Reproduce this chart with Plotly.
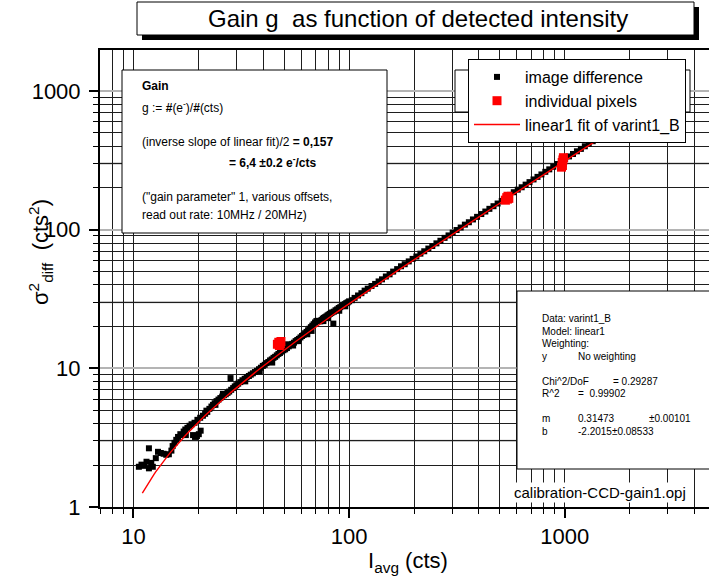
import numpy as np
import plotly.graph_objects as go

# ---------------- data ----------------
diff_x = [10.6, 10.9, 11.2, 11.5, 11.8, 12.1, 12.3, 11.8, 12.7,
          13.0, 13.4, 13.8, 14.2, 14.6, 15.0, 15.2,
          15.5, 15.8, 16.1, 16.5, 16.8, 17.1, 17.4, 17.8, 18.2, 18.6,
          18.9, 19.3, 19.7, 20.1, 20.5, 19.2, 19.8, 20.4, 21.0, 21.5,
          22.0, 22.5, 23.0, 23.4, 23.8, 24.3, 24.8, 25.3, 25.8, 26.3,
          26.8, 27.3, 27.8, 28.2, 28.4, 29.0, 29.5, 30.0,
          30.6, 31.3, 32.0, 32.8, 33.5, 34.3, 35.0, 35.8, 36.6, 37.4,
          38.2, 39.0, 39.8, 40.6, 41.4, 42.2, 43.0, 43.8, 44.6, 45.4,
          46.2, 47.0, 47.8,
          48.7, 49.6, 50.5, 51.5, 52.5, 53.5, 54.5, 55.5, 56.5, 57.5,
          58.5, 59.5, 60.5, 61.5, 62.5, 63.5, 64.5, 65.5, 66.5, 67.5,
          68.5, 69.5, 70.5, 71.5, 72.5, 73.5, 74.5, 75.5, 76.5, 77.5,
          78.5, 79.5, 80.5, 81.5, 82.5, 84.5, 83.5, 85.0, 86.5, 88.0,
          89.5, 91.0, 92.5, 94.0, 95.5, 97.0, 98.5, 100.0,
          52.0, 58.0, 64.0, 76.0, 90.0, 96.0,
          17.5, 21.8, 24.0, 26.0, 33.0, 38.5, 44.0, 55.0, 67.0, 80.0,
          103, 106, 110, 114, 118, 122, 127, 132, 137, 142, 148, 154,
          160, 167, 174, 181, 189, 197, 205, 214, 223, 233, 243, 254,
          265, 277, 289, 302, 315, 329, 344, 359, 375, 392, 410, 428,
          447, 467, 488, 510, 533,
          556, 580, 605, 631, 658, 686, 716, 747, 779, 812, 847, 884,
          922, 962, 1003, 1046, 1091, 1138, 1187, 1238, 1291, 1347,
          1405, 1465, 1528, 1594, 1662, 1734, 1808, 1886, 1967, 2050]
diff_y = [1.95, 2.02, 1.98, 2.12, 1.90, 2.08, 1.95, 2.65, 2.25,
          2.50, 2.45, 2.42, 2.38, 2.40, 2.55, 2.75,
          2.90, 3.05, 3.20, 3.35, 3.30, 3.50, 3.62, 3.72, 3.85, 3.95,
          3.30, 3.20, 3.25, 3.35, 3.55, 4.05, 4.25, 4.40, 4.55, 4.70,
          4.85, 5.10, 5.30, 5.45, 5.60, 5.80, 5.95, 6.10, 6.25, 6.40,
          6.50, 6.65, 6.80, 8.50, 7.00, 7.20, 7.40, 7.55,
          7.75, 7.95, 8.20, 8.40, 8.60, 8.80, 9.00, 9.20, 9.40, 9.60,
          9.85, 10.1, 10.4, 10.6, 10.9, 11.1, 11.4, 11.6, 11.9, 12.1,
          12.4, 12.7, 12.9,
          13.2, 13.5, 13.7, 14.0, 14.4, 14.7, 15.0, 15.3, 15.7, 16.0,
          16.3, 16.7, 17.1, 17.4, 17.9, 18.3, 18.8, 19.3, 19.8, 20.3,
          20.8, 21.4, 21.9, 22.0, 21.9, 21.8, 22.3, 22.8, 23.1, 23.4,
          23.7, 24.1, 24.4, 24.7, 25.0, 21.0, 25.3, 25.6, 26.2, 26.6,
          27.2, 27.6, 28.1, 28.6, 29.0, 29.5, 29.9, 30.4,
          14.9, 15.7, 17.6, 21.9, 26.0, 28.0,
          3.30, 4.95, 5.45, 6.55, 8.05, 9.50, 11.0, 14.6, 18.6, 23.0,
          31.0, 32.2, 33.5, 34.8, 36.3, 37.5, 39.2, 40.6, 42.3, 43.8,
          45.9, 47.6, 49.8, 51.9, 54.4, 56.3, 59.0, 61.5, 64.0, 67.1,
          69.8, 73.0, 76.2, 79.6, 83.1, 87.2, 90.8, 95.1, 99.3, 103.5,
          108.6, 113.0, 118.4, 123.6, 129.5, 135.0, 141.2, 147.5, 154.2,
          161.0, 168.0,
          178, 186, 194, 202, 211, 220, 230, 240, 250, 261, 272, 284,
          297, 309, 323, 337, 351, 367, 382, 399, 416, 434, 453, 473,
          493, 514, 537, 560, 584, 609, 635, 662]

pix_x = [46.5, 47.2, 48.0, 47.5, 48.3, 530, 538, 545, 542, 550,
         965, 975, 980, 985, 972]
pix_y = [14.9, 15.4, 15.0, 14.6, 15.6, 163, 170, 174, 166, 168,
         282, 290, 318, 330, 305]

# linear fit shown in the stats box: y = m*x + b
fit_m = 0.31473
fit_b = -2.2015
fit_xmin, fit_xmax = 11.0, 2100.0
fit_x = np.logspace(np.log10(fit_xmin), np.log10(fit_xmax), 300)
fit_y = fit_m * fit_x + fit_b

x_major = [10, 100, 1000]
y_major = [1, 10, 100, 1000]
y_gray = [3, 30, 300]

# ---------------- layout helpers ----------------
W, H = 709, 583
L, R, T, B = 100, 0, 50, 76
PW, PH = W - L - R, H - T - B
FONT = "Liberation Sans, Arial, sans-serif"


def px(x):
    return (x - L) / PW


def py(y):
    return (H - B - y) / PH


fig = go.Figure()
fig.add_trace(go.Scatter(x=diff_x, y=diff_y, mode="markers", name="image difference",
                         marker=dict(symbol="square", size=6, color="black", line=dict(width=0))))
fig.add_trace(go.Scatter(x=pix_x, y=pix_y, mode="markers", name="individual pixels",
                         marker=dict(symbol="square", size=9, color="#ff0000", line=dict(width=0))))
fig.add_trace(go.Scatter(x=fit_x, y=fit_y, mode="lines", name="linear1 fit of varint1_B",
                         line=dict(color="#ff0000", width=1.4)))

shapes = []
# gray horizontal grid lines at 3, 30, 300
for g in y_gray:
    shapes.append(dict(type="line", xref="paper", yref="y", x0=0, x1=1, y0=g, y1=g,
                       line=dict(color="#b4b4b4", width=2), layer="between"))

# title box with shadow
shapes.append(dict(type="rect", xref="paper", yref="paper", x0=px(142), x1=px(699), y0=py(40), y1=py(7),
                   fillcolor="black", line=dict(width=0), layer="above"))
shapes.append(dict(type="rect", xref="paper", yref="paper", x0=px(137), x1=px(694), y0=py(35), y1=py(2),
                   fillcolor="white", line=dict(color="black", width=1), layer="above"))
# gain text box
shapes.append(dict(type="rect", xref="paper", yref="paper", x0=px(122), x1=px(387), y0=py(233), y1=py(70),
                   fillcolor="white", line=dict(color="black", width=1), layer="above"))
# box behind legend
shapes.append(dict(type="rect", xref="paper", yref="paper", x0=px(455), x1=px(690), y0=py(112), y1=py(70),
                   fillcolor="white", line=dict(color="black", width=1), layer="above"))
# stats box
shapes.append(dict(type="rect", xref="paper", yref="paper", x0=px(517), x1=px(712), y0=py(469), y1=py(291),
                   fillcolor="white", line=dict(color="black", width=1), layer="above"))

ann = []


def text(x, y, s, size, anchor="left", **kw):
    ann.append(dict(x=px(x), y=py(y), xref="paper", yref="paper", text=s, showarrow=False,
                    xanchor=anchor, yanchor="middle", font=dict(family=FONT, size=size, color="black"), **kw))


text(418, 19, "Gain g\u00a0 as function of detected intensity", 24, anchor="center")

text(140, 86, "<b>Gain</b>", 12)
text(140, 106.5, "g := <b>#</b>(e<sup>-</sup>)/<b>#</b>(cts)", 12)
text(140, 141.5, "(inverse slope of linear fit)/2 <b>= 0,157</b>", 12)
text(227, 161.5, "<b>= 6,4 \u00b10.2 e<sup>-</sup>/cts</b>", 12)
text(140, 196.5, "(\"gain parameter\" 1, various offsets,", 12)
text(140, 215, "read out rate: 10MHz / 20MHz)", 12)

text(540, 318.5, "Data: varint1_B", 10)
text(540, 331, "Model: linear1", 10)
text(540, 343.5, "Weighting:", 10)
text(540, 356, "y", 10)
text(576, 356, "No weighting", 10)
text(540, 381, "Chi^2/DoF", 10)
text(611, 381, "= 0.29287", 10)
text(540, 393.5, "R^2", 10)
text(576, 393.5, "=\u00a0 0.99902", 10)
text(540, 418.5, "m", 10)
text(576, 418.5, "0.31473", 10)
text(647, 418.5, "\u00b10.00101", 10)
text(540, 431, "b", 10)
text(576, 431, "-2.2015\u00b10.08533", 10)

text(512, 492, "calibration-CCD-gain1.opj", 15, bgcolor="white")

# axis titles
text(408, 562, "I<sub>avg</sub> (cts)", 22, anchor="center")
ann.append(dict(x=px(40), y=py(252), xref="paper", yref="paper",
                text="\u03c3<sup>2</sup><sub>diff</sub>\u00a0 (cts<sup>2</sup>)", showarrow=False,
                textangle=-90, xanchor="center", yanchor="middle",
                font=dict(family=FONT, size=22, color="black")))

grid_dark = "#1e1e1e"
fig.update_layout(
    width=W, height=H, margin=dict(l=L, r=R, t=T, b=B, pad=0),
    paper_bgcolor="white", plot_bgcolor="white",
    font=dict(family=FONT, size=22, color="black"),
    showlegend=True,
    legend=dict(x=px(468), y=py(59), xanchor="left", yanchor="top",
                bgcolor="white", bordercolor="black", borderwidth=1,
                font=dict(family=FONT, size=16, color="black"),
                tracegroupgap=0, itemsizing="trace", itemwidth=46),
    shapes=shapes, annotations=ann,
    xaxis=dict(type="log", range=[np.log10(7), np.log10(4660)],
               tickmode="array", tickvals=x_major, ticktext=[str(v) for v in x_major],
               ticks="outside", ticklen=9, tickwidth=1.5, tickcolor="black",
               showline=True, linewidth=2, linecolor="black", mirror=True,
               showgrid=True, gridcolor=grid_dark, gridwidth=1,
               zeroline=False, tickfont=dict(size=22),
               minor=dict(dtick="D1", ticks="outside", ticklen=5, tickwidth=1, tickcolor="black",
                          showgrid=True, gridcolor=grid_dark, gridwidth=1)),
    yaxis=dict(type="log", range=[0, 3.295],
               tickmode="array", tickvals=y_major, ticktext=[str(v) for v in y_major],
               ticks="outside", ticklen=9, tickwidth=1.5, tickcolor="black",
               showline=True, linewidth=2, linecolor="black", mirror=False,
               showgrid=True, gridcolor="#b4b4b4", gridwidth=2,
               zeroline=False, tickfont=dict(size=22), ticklabelstandoff=4,
               minor=dict(dtick="D1", ticks="outside", ticklen=5, tickwidth=1, tickcolor="black",
                          showgrid=True, gridcolor=grid_dark, gridwidth=1)),
)

fig.write_html("out.html")
